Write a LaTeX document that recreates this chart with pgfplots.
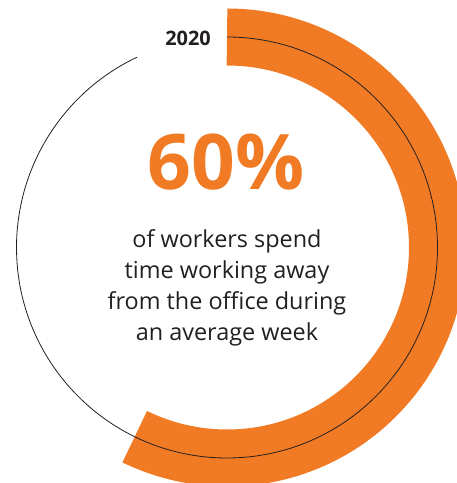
\documentclass[border=0pt]{standalone}
\usepackage{fontspec}
\setmainfont{Open Sans}
\usepackage{pgfplots}
\pgfplotsset{compat=1.18}
\definecolor{bandorange}{RGB}{241,123,36}
\definecolor{inkgray}{RGB}{35,31,32}

% share shown in the ring, and the angle where the orange band ends
\newcommand{\share}{60}
\newcommand{\bandend}{-116}

\begin{document}
\begin{tikzpicture}
\begin{axis}[
  width=457bp, height=483bp, scale only axis,
  hide axis,
  xmin=0, xmax=457, ymin=0, ymax=483,
  clip mode=global,
]
  % orange band, clockwise from 12 o'clock
  \draw[bandorange, line width=57bp]
    (axis cs:227,446) arc[start angle=90, end angle=\bandend, radius=210.5bp];
  % thin ring, open at the top left where the year sits
  \draw[inkgray, line width=0.8bp]
    (axis cs:227,446) arc[start angle=90, end angle=-244.7, radius=210.5bp];

  \node[anchor=base, inkgray, font=\fontsize{20}{24}\selectfont\bfseries]
    at (axis cs:188,437) {2020};
  \node[anchor=base, bandorange, font=\fontsize{77}{80}\selectfont\bfseries]
    at (axis cs:226,293) {\share\%};

  \begin{scope}[every node/.style={anchor=base, inkgray, font=\fontsize{23.5}{31}\selectfont}]
    \node at (axis cs:227,235) {of workers spend};
    \node at (axis cs:227,204) {time working away};
    \node at (axis cs:227,173) {from the office during};
    \node at (axis cs:227,142) {an average week};
  \end{scope}
\end{axis}
\pgfresetboundingbox
\useasboundingbox (current axis.south west) rectangle (current axis.north east);
\end{tikzpicture}
\end{document}
